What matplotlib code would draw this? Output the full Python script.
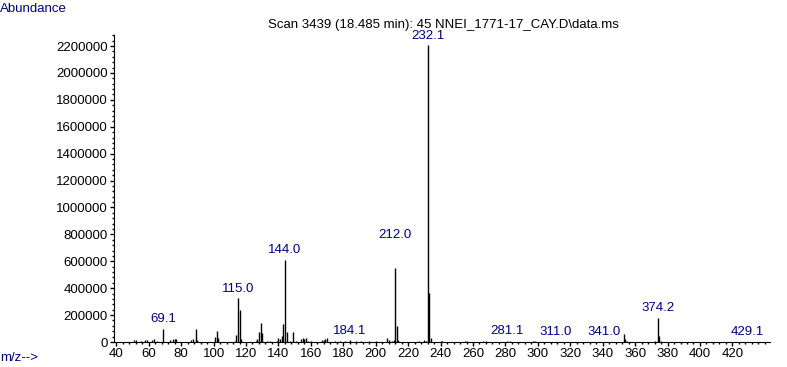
import matplotlib
matplotlib.use("Agg")
import matplotlib.pyplot as plt
from matplotlib.ticker import MultipleLocator

# peak list (m/z, abundance)
mz = [51, 52, 55, 58, 59, 62, 63, 65, 69, 73, 75, 76, 77, 86, 87, 89, 90,
      101, 102, 103, 113, 114, 115, 116, 117, 126, 127, 128, 129, 130, 133,
      135, 139, 140, 141, 142, 143, 144, 145, 147, 149, 151, 154, 155, 156,
      157, 158, 160, 167, 168, 169, 170, 175, 178, 181, 184, 188, 191, 196,
      200, 207, 208, 210, 211, 212, 213, 214, 227, 230, 231, 232, 233, 234,
      240, 241, 255, 256, 266, 268, 281, 283, 297, 298, 311, 341, 353, 354,
      355, 372, 374, 375, 376, 429]
abundance = [12000, 15000, 10000, 12000, 14000, 16000, 20000, 10000, 100000,
             15000, 22000, 25000, 22000, 15000, 25000, 100000, 12000,
             35000, 80000, 28000, 10000, 50000, 325000, 238000, 25000,
             8000, 20000, 72000, 145000, 66000, 8000,
             8000, 8000, 30000, 20000, 42000, 135000, 610000, 74000, 10000,
             78000, 8000, 25000, 28000, 22000,
             30000, 10000, 8000, 12000, 18000, 20000, 30000, 6000, 6000, 6000,
             12000, 5000, 8000, 5000,
             6000, 32000, 12000, 10000, 15000, 548000, 116000, 15000, 10000,
             15000, 10000, 2205000, 364000, 28000,
             8000, 7000, 7000, 6000, 6000, 6000, 8000, 7000, 5000, 5000, 3000,
             3000, 57000, 25000,
             10000, 7000, 180000, 45000, 8000, 3000]

label_mz = [69, 115, 144, 184, 212, 232, 281, 311, 341, 374, 429]
label_text = ["69.1", "115.0", "144.0", "184.1", "212.0", "232.1", "281.1",
              "311.0", "341.0", "374.2", "429.1"]

title = "Scan 3439 (18.485 min): 45 NNEI_1771-17_CAY.D\\data.ms"
blue = "#000080"

plt.rcParams['font.family'] = ['Liberation Sans', 'DejaVu Sans']
fig = plt.figure(figsize=(7.87, 3.67), dpi=100)
ax = fig.add_axes([0.1449, 0.0681, 0.978 - 0.1449, 0.9046 - 0.0681])

ax.vlines(mz, 0, abundance, color="black", lw=1)

lookup = dict(zip(mz, abundance))
for m, t in zip(label_mz, label_text):
    dy = 20 if t == "212.0" else 2.5
    ax.annotate(t, (m, lookup[m]), xytext=(0, dy), textcoords="offset points",
                ha="center", va="bottom", color=blue, fontsize=9.5)

ax.set_xlim(38.6, 443)
ax.set_ylim(0, 2282000)
ax.xaxis.set_major_locator(MultipleLocator(20))
ax.xaxis.set_minor_locator(MultipleLocator(4))
ax.yaxis.set_major_locator(MultipleLocator(200000))
ax.yaxis.set_minor_locator(MultipleLocator(40000))
ax.set_xticks(range(40, 440, 20))
ax.ticklabel_format(axis="y", style="plain", useOffset=False)
ax.tick_params(which="major", length=3, width=1, labelsize=9.5, pad=1.5)
ax.tick_params(which="minor", length=1.5, width=1)
for s in ["top", "right"]:
    ax.spines[s].set_visible(False)

fig.text(0.563, 0.932, title, ha="center", va="center", fontsize=9.5)
fig.text(0.0, 0.975, "Abundance", ha="left", va="center", color=blue, fontsize=9.5)
fig.text(0.0, 0.025, "m/z-->", ha="left", va="center", color=blue, fontsize=9.5)

fig.savefig("out.png", dpi=100)
